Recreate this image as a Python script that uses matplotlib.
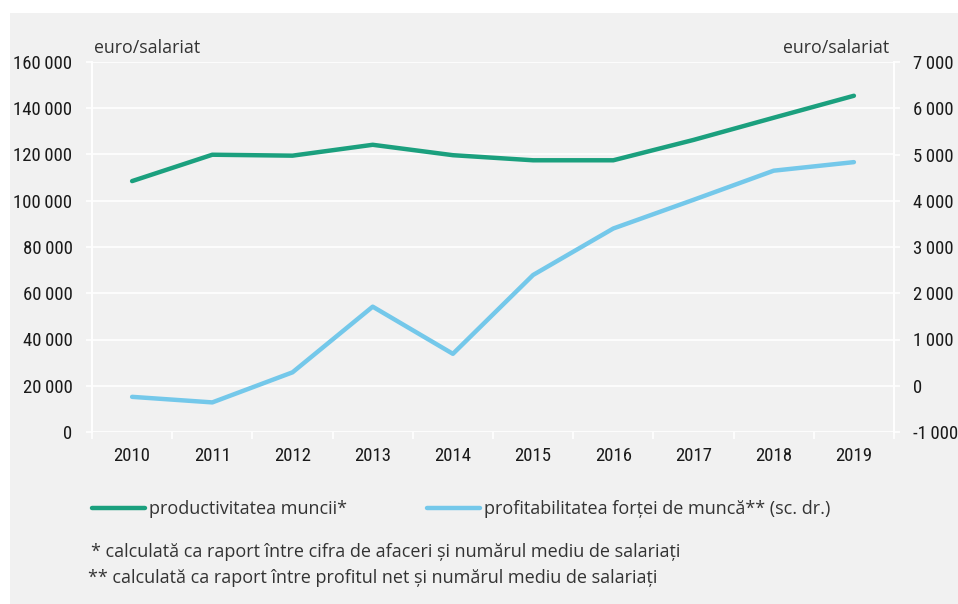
import matplotlib
matplotlib.use("Agg")
import matplotlib.pyplot as plt
from matplotlib import font_manager
from matplotlib.patches import Rectangle
from matplotlib.ticker import FuncFormatter
import numpy as np

# ---- data ----
years = ["2010", "2011", "2012", "2013", "2014", "2015", "2016", "2017", "2018", "2019"]
productivitate = [108500, 119900, 119500, 124200, 119700, 117500, 117500, 126300, 135900, 145400]
profitabilitate = [-240, -360, 290, 1710, 690, 2395, 3400, 4020, 4650, 4835]
left_ticks = [0, 20000, 40000, 60000, 80000, 100000, 120000, 140000, 160000]
right_ticks = [-1000, 0, 1000, 2000, 3000, 4000, 5000, 6000, 7000]
label_prod = "productivitatea muncii*"
label_prof = "profitabilitatea forței de muncă** (sc. dr.)"
unit = "euro/salariat"
note1 = "* calculată ca raport între cifra de afaceri și numărul mediu de salariați"
note2 = "** calculată ca raport între profitul net și numărul mediu de salariați"

available = {f.name for f in font_manager.fontManager.ttflist}
def pick(*names):
    for n in names:
        if n in available:
            return n
    return "DejaVu Sans"

num_font = pick("Liberation Sans Narrow", "Roboto Condensed", "DejaVu Sans")
txt_font = pick("Open Sans", "Lato", "DejaVu Sans")

GREEN = "#1ba07e"
BLUE = "#74c8ea"
BG = "#f1f1f1"
TXT = "#333333"
NUM = "#1a1a1a"

W, H = 958, 604
fig = plt.figure(figsize=(W / 100, H / 100), dpi=100)
fig.patch.set_facecolor("white")
fig.patches.append(Rectangle((10 / W, 0), 1, (H - 13) / H, transform=fig.transFigure,
                             facecolor=BG, edgecolor="none", zorder=-10))

ax = fig.add_axes([92 / W, 1 - 432 / H, (894 - 92) / W, (432 - 62) / H])
ax.set_facecolor(BG)
ax2 = ax.twinx()

x = np.arange(len(years))
ax.plot(x, productivitate, color=GREEN, lw=3.2, solid_capstyle="round", solid_joinstyle="round",
        zorder=3, label=label_prod)
ax2.plot(x, profitabilitate, color=BLUE, lw=3.2, solid_capstyle="round", solid_joinstyle="round",
         zorder=3, label=label_prof)

ax.set_xlim(-0.5, len(years) - 0.5)
ax.set_ylim(0, 160000)
ax2.set_ylim(-1000, 7000)

def fmt(v, pos=None):
    s = f"{abs(int(round(v))):,}".replace(",", "\u2009")
    return ("-" if v < 0 else "") + s

ax.set_yticks(left_ticks)
ax.yaxis.set_major_formatter(FuncFormatter(fmt))
ax2.set_yticks(right_ticks)
ax2.yaxis.set_major_formatter(FuncFormatter(fmt))

ax.set_xticks(x)
ax.set_xticklabels(years)
ax.set_xticks(np.arange(-0.5, len(years), 1), minor=True)

ax.yaxis.grid(True, color="white", lw=1.2, zorder=1)
ax.set_axisbelow(True)

for a in (ax, ax2):
    for s in ("top", "bottom"):
        a.spines[s].set_visible(False)
    for s in ("left", "right"):
        a.spines[s].set_color("white")
        a.spines[s].set_linewidth(1.2)

ax.tick_params(axis="y", length=4.5, width=1.2, color="white", pad=9.5,
               labelsize=13.5, labelcolor=NUM)
ax2.tick_params(axis="y", length=4.5, width=1.2, color="white", pad=9.5,
                labelsize=13.5, labelcolor=NUM)
ax.tick_params(axis="x", which="major", length=0, pad=11, labelsize=13.5, labelcolor=NUM)
ax.tick_params(axis="x", which="minor", length=5, width=1.2, color="white")
for lab in ax.get_xticklabels() + ax.get_yticklabels() + ax2.get_yticklabels():
    lab.set_fontfamily([num_font, "DejaVu Sans"])

fig.text(94 / W, 1 - 53 / H, unit, fontsize=12.8, color=TXT, family=txt_font,
         va="baseline", ha="left")
fig.text(889 / W, 1 - 53 / H, unit, fontsize=12.8, color=TXT, family=txt_font,
         va="baseline", ha="right")

h1, l1 = ax.get_legend_handles_labels()
h2, l2 = ax2.get_legend_handles_labels()
leg = fig.legend(h1 + h2, l1 + l2, loc="center left", bbox_to_anchor=(92 / W, 1 - 509 / H),
                 ncol=2, frameon=False, borderpad=0, borderaxespad=0,
                 handlelength=2.93, handletextpad=0.22, columnspacing=4.45,
                 prop={"family": txt_font, "size": 13})
for t in leg.get_texts():
    t.set_color(TXT)
for lh in leg.get_lines():
    lh.set_linewidth(3.2)
    lh.set_solid_capstyle("round")

fig.text(91 / W, 1 - 552 / H, note1, fontsize=13, color=TXT, family=txt_font,
         va="center", ha="left")
fig.text(88 / W, 1 - 578 / H, note2, fontsize=13, color=TXT, family=txt_font,
         va="center", ha="left")

fig.savefig("out.png", dpi=100, facecolor=fig.get_facecolor())
